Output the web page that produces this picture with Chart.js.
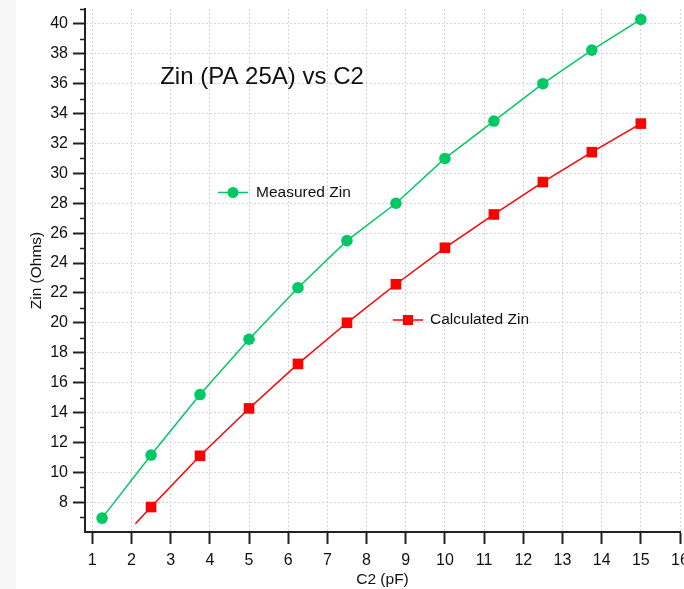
<!DOCTYPE html>
<html>
<head>
<meta charset="utf-8">
<script src="https://cdn.jsdelivr.net/npm/chart.js@4.4.0/dist/chart.umd.min.js"></script>
<style>
  html, body { margin: 0; padding: 0; overflow: hidden; background: #f6f6f6; }
  #wrap { position: absolute; left: 16px; top: 0; width: 690px; height: 589px; background: #fff; }
</style>
</head>
<body>
<div id="wrap"><canvas id="chart" width="690" height="589"></canvas></div>
<script>
// Measured Zin vs C2
var measuredC2 = [1.25, 2.5, 3.75, 5, 6.25, 7.5, 8.75, 10, 11.25, 12.5, 13.75, 15];
var measuredZin = [6.93, 11.15, 15.2, 18.9, 22.35, 25.5, 28.0, 31.0, 33.5, 36.0, 38.25, 40.3];

// Calculated Zin vs C2 (first point is where the red line starts, no marker)
var calcC2 = [2.1, 2.5, 3.75, 5, 6.25, 7.5, 8.75, 10, 11.25, 12.5, 13.75, 15];
var calcZin = [6.55, 7.67, 11.1, 14.27, 17.25, 20.0, 22.58, 25.02, 27.25, 29.42, 31.42, 33.33];

var titleText = 'Zin (PA 25A) vs C2';
var seriesNames = ['Measured Zin', 'Calculated Zin'];
var xAxisTitle = 'C2 (pF)';
var yAxisTitle = 'Zin (Ohms)';

var green = '#00c864';
var red = '#ff0000';
var font = '"Liberation Sans", Arial, sans-serif';

function toPoints(xs, ys) {
  return xs.map(function (x, i) { return { x: x, y: ys[i] }; });
}

// title, legend entries and minor y ticks are drawn on top
var overlay = {
  id: 'overlay',
  afterDraw: function (chart) {
    var ctx = chart.ctx;
    var ys = chart.scales.y;
    var left = chart.chartArea.left;
    ctx.save();

    // minor ticks at odd values
    ctx.strokeStyle = '#222';
    ctx.lineWidth = 1.5;
    for (var v = 7; v <= 41; v += 2) {
      var py = Math.round(ys.getPixelForValue(v)) + 0.5;
      ctx.beginPath();
      ctx.moveTo(left - 5, py);
      ctx.lineTo(left, py);
      ctx.stroke();
    }

    ctx.fillStyle = '#111';
    ctx.textBaseline = 'middle';
    ctx.font = '24px ' + font;
    ctx.textAlign = 'center';
    ctx.fillText(titleText, 246, 77);

    // legend: measured
    ctx.font = '15.5px ' + font;
    ctx.textAlign = 'left';
    ctx.strokeStyle = green;
    ctx.lineWidth = 1.5;
    ctx.beginPath(); ctx.moveTo(202, 192.5); ctx.lineTo(232, 192.5); ctx.stroke();
    ctx.fillStyle = green;
    ctx.beginPath(); ctx.arc(217, 192.5, 5.5, 0, Math.PI * 2); ctx.fill();
    ctx.fillStyle = '#111';
    ctx.fillText(seriesNames[0], 240, 193);

    // legend: calculated
    ctx.strokeStyle = red;
    ctx.beginPath(); ctx.moveTo(377, 320); ctx.lineTo(407, 320); ctx.stroke();
    ctx.fillStyle = red;
    ctx.fillRect(387, 315, 10, 10);
    ctx.fillStyle = '#111';
    ctx.fillText(seriesNames[1], 414, 320);

    ctx.restore();
  }
};

var ctx = document.getElementById('chart').getContext('2d');
var chart = new Chart(ctx, {
  type: 'scatter',
  data: {
    datasets: [{
      label: seriesNames[0],
      data: toPoints(measuredC2, measuredZin),
      showLine: true,
      borderColor: green,
      borderWidth: 1.5,
      backgroundColor: green,
      pointStyle: 'circle',
      pointRadius: 5.8,
      pointBorderWidth: 0
    }, {
      label: seriesNames[1],
      data: toPoints(calcC2, calcZin),
      showLine: true,
      borderColor: red,
      borderWidth: 1.5,
      backgroundColor: red,
      pointStyle: 'rect',
      pointRadius: function (c) { return c.dataIndex === 0 ? 0 : 7.5; },
      pointBorderWidth: 0
    }]
  },
  options: {
    responsive: false,
    animation: false,
    devicePixelRatio: 1,
    layout: { padding: { top: 9, right: 26, left: 0, bottom: 0 } },
    plugins: {
      legend: { display: false },
      tooltip: { enabled: false }
    },
    scales: {
      x: {
        type: 'linear',
        min: 0.814,
        max: 16,
        ticks: {
          stepSize: 1,
          includeBounds: false,
          autoSkip: false,
          maxRotation: 0,
          padding: 7,
          color: '#111',
          font: { family: font, size: 16 }
        },
        grid: {
          color: '#d6d6d6',
          lineWidth: 1,
          tickLength: 12,
          tickWidth: 2,
          tickColor: '#222'
        },
        border: { display: true, color: '#222', width: 2, dash: [2, 2] },
        title: {
          display: true,
          text: xAxisTitle,
          color: '#111',
          font: { family: font, size: 15.5 },
          padding: { top: 0, bottom: 0 }
        },
        afterFit: function (scale) { scale.height = 57; }
      },
      y: {
        type: 'linear',
        min: 6,
        max: 41,
        ticks: {
          stepSize: 1,
          autoSkip: false,
          padding: 5,
          color: '#111',
          font: { family: font, size: 16 },
          callback: function (v) { return (v % 2 === 0 && v >= 8) ? v : ''; }
        },
        grid: {
          color: function (c) { return (c.tick && c.tick.value % 2 === 0) ? '#d6d6d6' : 'rgba(0,0,0,0)'; },
          lineWidth: 1,
          tickLength: 12,
          tickWidth: 2,
          tickColor: function (c) { return (c.tick && c.tick.value % 2 === 0 && c.tick.value >= 8) ? '#222' : 'rgba(0,0,0,0)'; }
        },
        border: { display: true, color: '#222', width: 2, dash: [2, 2] },
        title: {
          display: true,
          text: yAxisTitle,
          color: '#111',
          font: { family: font, size: 15.5 },
          padding: { top: 11, bottom: 0 }
        },
        afterFit: function (scale) {
          scale.width = 69;
          scale.paddingTop = 0;
          scale.paddingBottom = 0;
        }
      }
    }
  },
  plugins: [overlay]
});
</script>
</body>
</html>
